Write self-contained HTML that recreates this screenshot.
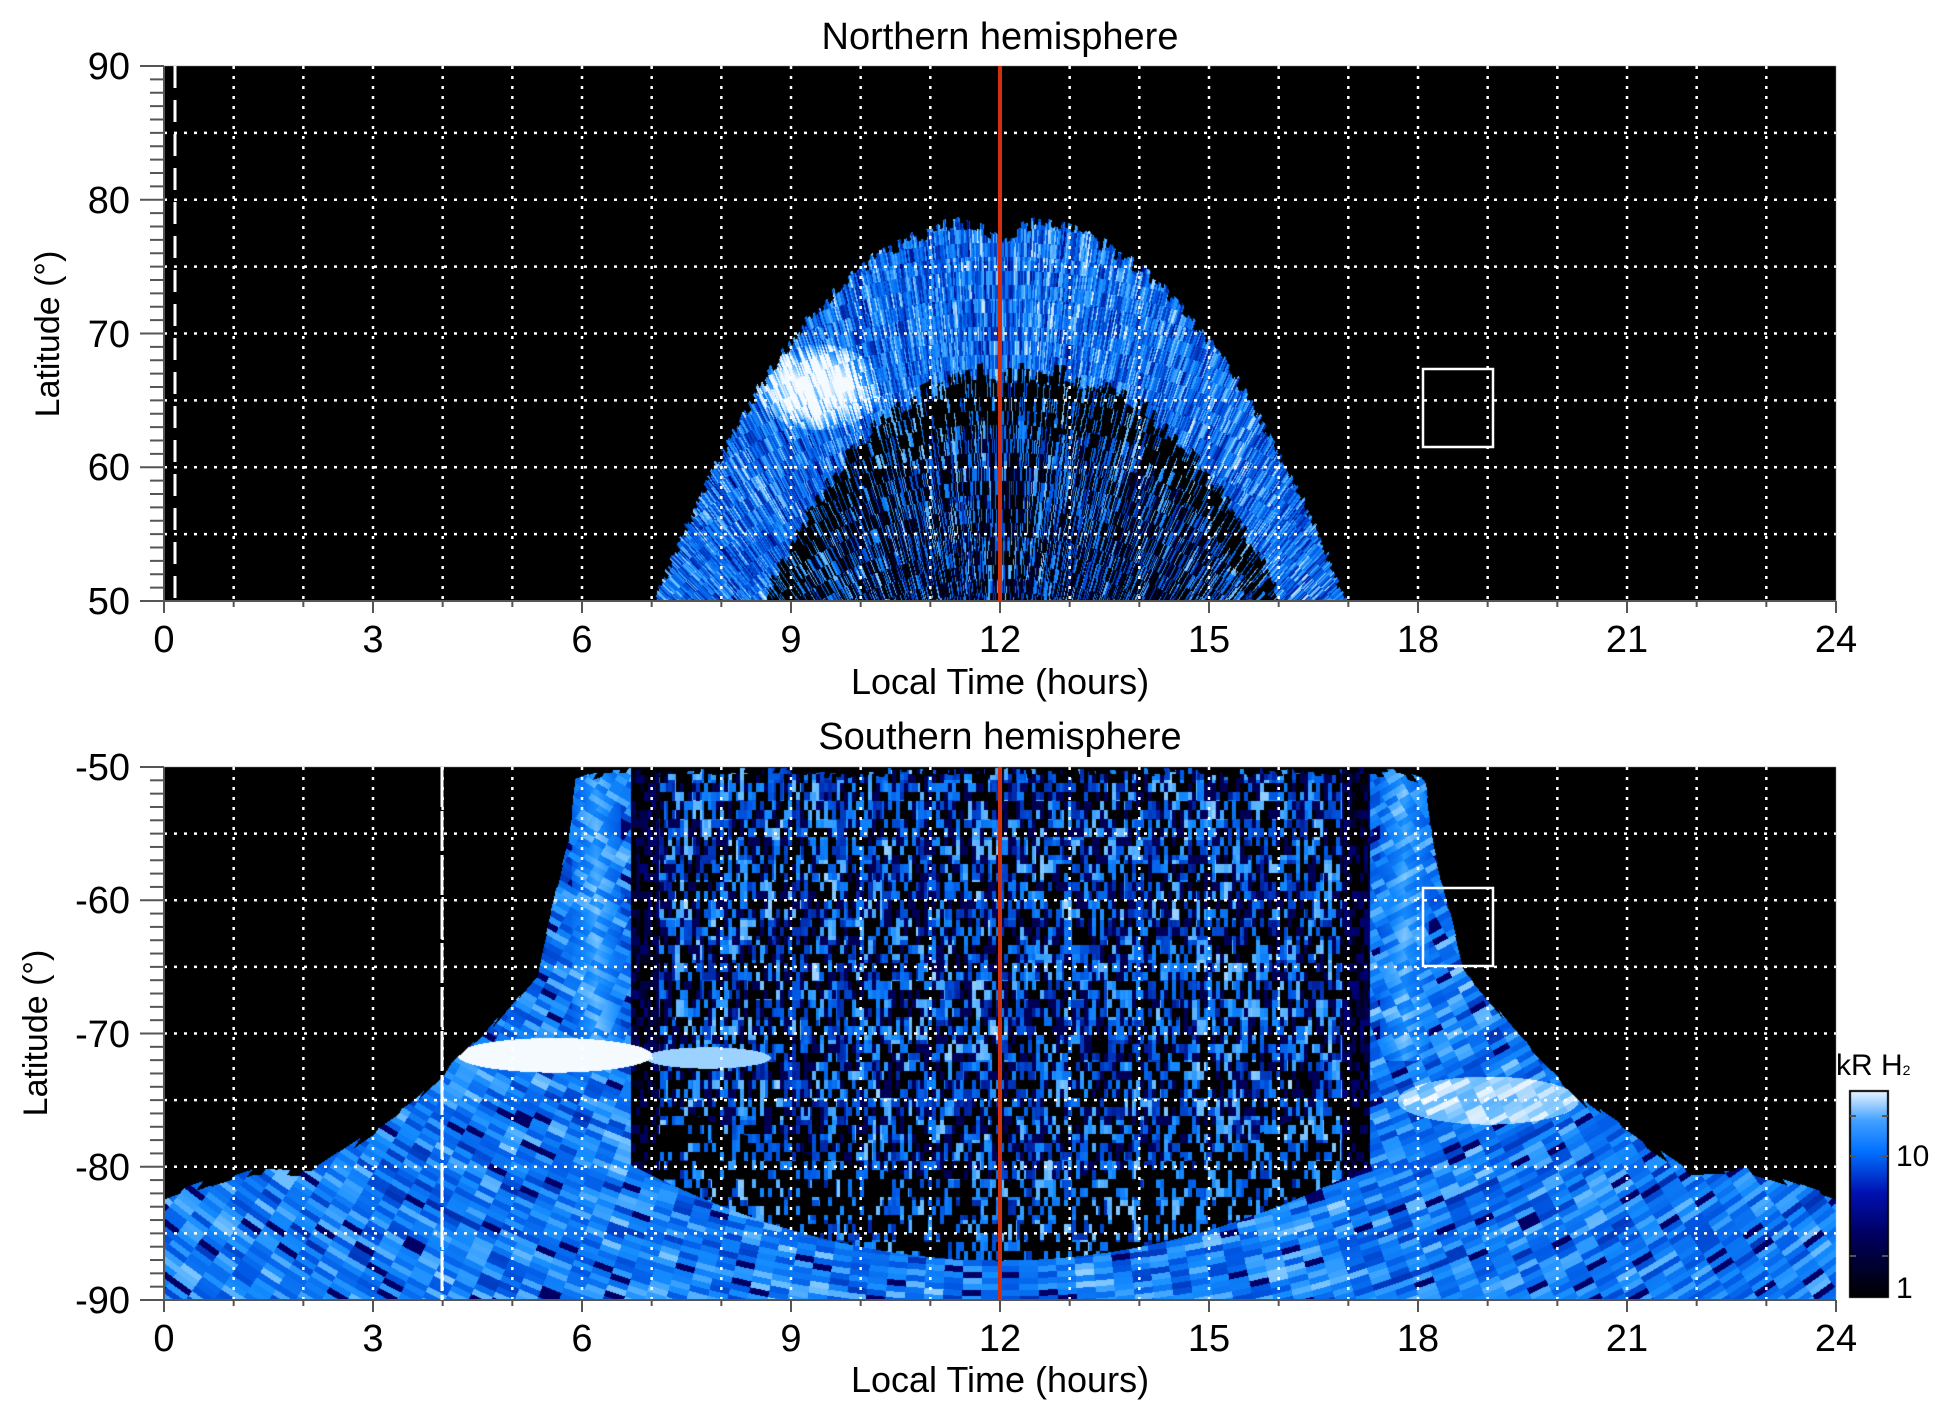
<!DOCTYPE html>
<html><head><meta charset="utf-8"><style>
body{margin:0;background:#fff;width:1950px;height:1423px;overflow:hidden;position:relative;font-family:"Liberation Sans",sans-serif;color:#000}
canvas,svg{position:absolute;left:0;top:0}
.t{position:absolute;white-space:nowrap;font-size:38px;line-height:1}
</style></head><body>
<canvas id="c" width="1950" height="1423"></canvas>
<svg id="s" width="1950" height="1423"></svg>
<div class="t" style="left:1000px;top:18px;transform:translateX(-50%)">Northern hemisphere</div>
<div class="t" style="left:1000px;top:718px;transform:translateX(-50%)">Southern hemisphere</div>
<div class="t" style="left:1000px;top:664px;transform:translateX(-50%);font-size:36px">Local Time (hours)</div>
<div class="t" style="left:1000px;top:1362px;transform:translateX(-50%);font-size:36px">Local Time (hours)</div>
<div class="t" style="left:48px;top:334px;transform:translate(-50%,-50%) rotate(-90deg);font-size:34px">Latitude (°)</div>
<div class="t" style="left:36px;top:1033px;transform:translate(-50%,-50%) rotate(-90deg);font-size:34px">Latitude (°)</div>
<div class="t" style="left:1836px;top:1051px;font-size:30px">kR H<span style="font-size:14px">2</span></div>
<div class="t" style="left:1896px;top:1142px;font-size:30px">10</div>
<div class="t" style="left:1896px;top:1274px;font-size:30px">1</div>
<div id="lab"></div>
<script>
const X0=164,W=1672,hx=h=>X0+h*W/24;
const T0=66,T1=601,B0=767,B1=1300;
function hash(a,b){let n=(a*374761393+b*668265263)|0;n=(n^(n>>>13))*1274126177|0;return ((n^(n>>>16))>>>0)/4294967296;}
function cmap(t){t=Math.max(0,Math.min(1,t));const s=[[0,0,0,0],[0.35,0,0,120],[0.6,0,90,230],[0.75,20,140,255],[0.88,110,190,255],[1,245,250,255]];
for(let i=1;i<s.length;i++)if(t<=s[i][0]){const a=s[i-1],b=s[i],f=(t-a[0])/(b[0]-a[0]);return[a[1]+f*(b[1]-a[1]),a[2]+f*(b[2]-a[2]),a[3]+f*(b[3]-a[3])];}return[245,250,255];}
const pts=[[0,0],[0.4,0.02],[0.5,0.16],[0.95,0.47],[1.75,0.625],[2.75,0.78],[4.2,0.94],[5,0.93],[5.6,0.96],[6.3,1]];
function edgeF(d){for(let i=1;i<pts.length;i++)if(d<=pts[i][0]){const a=pts[i-1],b=pts[i];return a[1]+(d-a[0])/(b[0]-a[0])*(b[1]-a[1]);}return 1;}
const cv=document.getElementById('c'),ctx=cv.getContext('2d');
ctx.fillStyle='#000';ctx.fillRect(X0,T0,W,T1-T0);ctx.fillRect(X0,B0,W,B1-B0);
const img=ctx.getImageData(0,0,1950,1423),d=img.data;
function put(x,y,t){const c=cmap(t),i=(y*1950+x)*4;d[i]=c[0];d[i+1]=c[1];d[i+2]=c[2];d[i+3]=255;}
for(let y=T0;y<T1;y++)for(let x=X0;x<X0+W;x++){
 const h=(x-X0)*24/W,lat=90-(y-T0)*40/(T1-T0);
 const dd=(h-12)/5;
 if(Math.abs(dd)>1)continue;
 const a=Math.atan2(x-1000,900-y),r=Math.hypot(x-1000,900-y);
 const jag=hash(Math.floor(a*200),1)*1.2;
 let outer=50+29*(1-Math.pow(Math.abs(dd),2.3))-jag;
 if(Math.abs(dd)<0.1)outer-=1.2*(1-Math.abs(dd)/0.1);
 if(lat>outer)continue;
 const n=hash(Math.floor(a*420),Math.floor(r/14)),n2=hash(Math.floor(a*150)+7,Math.floor(r/40));
 const di=(h-12.3)/3.8,inner=50+18*(1-Math.pow(Math.abs(di),2.4))-hash(Math.floor(a*90),3)*1.5;
 let t;
 if(Math.abs(di)<1&&lat<inner){t=n>0.6?0.45+0.4*n2+0.2*(n-0.6):n*0.35;if(n<0.35)t=0;if(lat>inner-4&&n<0.75)t=0;}
 else{t=0.45+0.45*n+0.2*n2-0.1;
  const bx=(h-9.4)/0.9,byy=(lat-66)/3.2;if(bx*bx+byy*byy<1)t+=0.4*(1-bx*bx-byy*byy)+0.1;}
 put(x,y,t);}
for(let y=B0;y<B1;y++)for(let x=X0;x<X0+W;x++){
 const h=(x-X0)*24/W,lat=-50-(y-B0)*40/(B1-B0);
 let dout=0;if(h<6.3)dout=6.3-h;else if(h>17.7)dout=h-17.7;
 const a=Math.atan2(x-1000,y-150),r=Math.hypot(x-1000,y-150);
 const edge=-50-32*edgeF(dout)-hash(Math.floor(a*120),5)*0.8;
 if(lat>edge)continue;
 const na=hash(Math.floor(a*60),Math.floor(r/6)),nb=hash(Math.floor(a*20)+3,Math.floor(r/12));
 let t;
 if(lat<-90.3){t=0.3;put(x,y,t);continue;}
 const dc=(h-12)/5.6,ulow=-79-8*(1-dc*dc);
 const center=h>6.7&&h<17.3;
 if(center&&lat>ulow){
  const ns=hash(Math.floor(x/4),Math.floor(y/9)),ns2=hash(Math.floor(x/9)+5,Math.floor(y/20));
  t=ns>0.55?0.4+0.45*ns2+0.2*(ns-0.55):(ns<0.35?0:0.25);
  if(lat<ulow+6&&ns<0.65)t=0;
  if(h<7.1||h>16.9)t*=0.4;
 }else{
  t=0.45+0.32*na+0.15*nb;
  if(na<0.06)t=0.3;
 }
 for(const c of[6.2,17.8]){const q=Math.abs(h-c);if(q<0.35&&lat>-72)t=Math.max(t,0.72+0.2*na-q*0.4);}
 let bx=(h-5.6)/1.4,bb=(lat+71.6)/1.3;if(bx*bx+bb*bb<1)t=1;
 bx=(h-7.8)/0.9;bb=(lat+71.8)/0.8;if(bx*bx+bb*bb<1)t=Math.max(t,0.92);
 bx=(h-19)/1.3;bb=(lat+75)/1.8;if(bx*bx+bb*bb<1)t=Math.max(t,0.85+0.15*na);
 put(x,y,t);}
ctx.putImageData(img,0,0);
const g=ctx.createLinearGradient(0,1297,0,1090);
[[0,'#000'],[0.3,'#000060'],[0.5,'#0010b0'],[0.7,'#0070ff'],[0.85,'#40a0ff'],[1,'#f0f8ff']].forEach(s=>g.addColorStop(s[0],s[1]));
ctx.fillStyle=g;ctx.fillRect(1850,1091,38,206);ctx.strokeStyle='#000';ctx.lineWidth=2;ctx.strokeRect(1850,1091,38,206);
let s='';
function L(x1,y1,x2,y2,st){s+=`<line x1="${x1}" y1="${y1}" x2="${x2}" y2="${y2}" ${st}/>`;}
const dot='stroke="#fff" stroke-width="2.5" stroke-dasharray="3 7"';
let lab='';
function panel(y0,y1,names){
 for(let h=1;h<24;h++)L(hx(h),y0,hx(h),y1,dot);
 for(let k=1;k<8;k++){const yy=y0+k*(y1-y0)/8;L(X0,yy,X0+W,yy,dot);}
 L(X0,y0,X0,y1,'stroke="#555" stroke-width="2"');
 L(X0,y1,X0+W,y1,'stroke="#555" stroke-width="2"');
 for(let k=0;k<=40;k++){const yy=y0+k*(y1-y0)/40;L(k%10==0?140:150,yy,X0,yy,'stroke="#555" stroke-width="2"');}
 for(let h=0;h<=24;h++)L(hx(h),y1,hx(h),y1+(h%3==0?12:6),'stroke="#555" stroke-width="2"');
 for(let h=0;h<=24;h+=3)lab+=`<div class="t" style="left:${hx(h)}px;top:${y1+20}px;transform:translateX(-50%)">${h}</div>`;
 names.forEach((n,i)=>{lab+=`<div class="t" style="right:${1950-130}px;top:${y0+i*(y1-y0)/4-18}px">${n}</div>`;});
}
panel(T0,T1,['90','80','70','60','50']);
panel(B0,B1,['-50','-60','-70','-80','-90']);
L(175,T0,175,T1,'stroke="#fff" stroke-width="3" stroke-dasharray="22 12"');
L(442,B0,442,B1,'stroke="#fff" stroke-width="3" stroke-dasharray="40 4"');
L(1000,T0,1000,T1,'stroke="#d03010" stroke-width="4"');
L(1000,B0,1000,B1,'stroke="#d03010" stroke-width="4"');
s+='<rect x="1423" y="369" width="70" height="78" fill="none" stroke="#fff" stroke-width="2.5"/>';
s+='<rect x="1423" y="888" width="70" height="78" fill="none" stroke="#fff" stroke-width="2.5"/>';
[1116,1156,1256].forEach(y=>{L(1850,y,1856,y,'stroke="#555" stroke-width="2"');L(1882,y,1888,y,'stroke="#555" stroke-width="2"');});
document.getElementById('s').innerHTML=s;
document.getElementById('lab').innerHTML=lab;
</script>
</body></html>
